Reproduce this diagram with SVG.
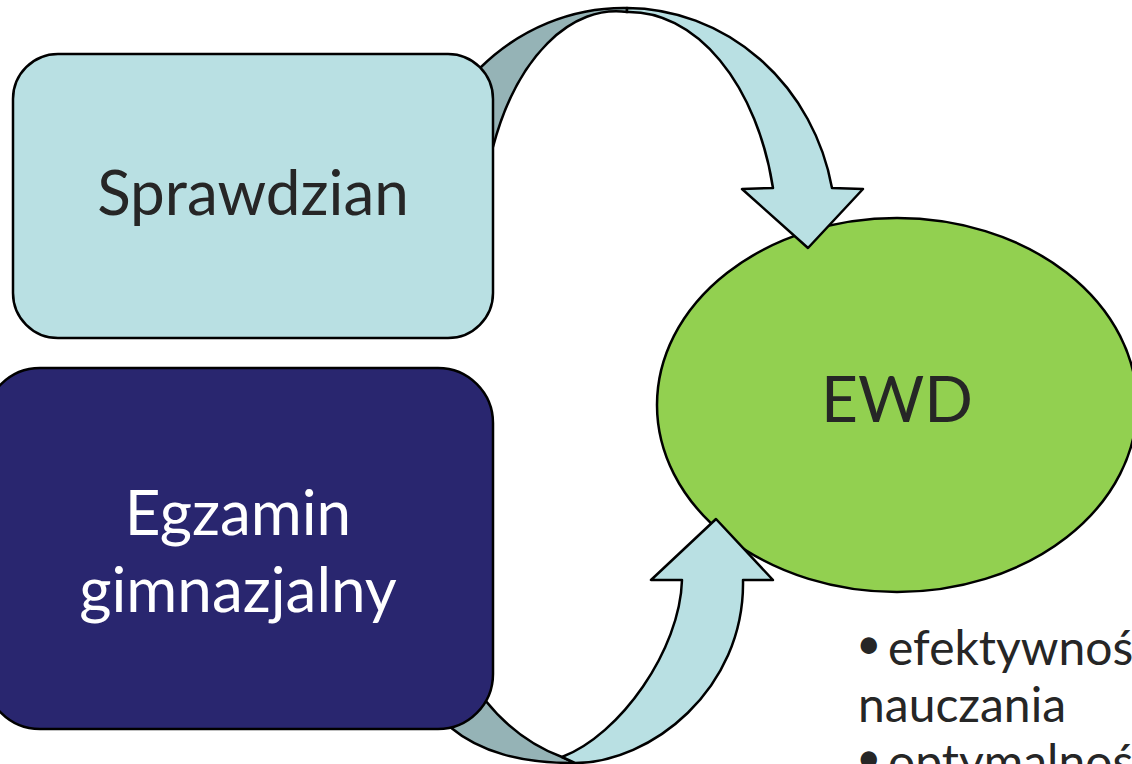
<svg xmlns="http://www.w3.org/2000/svg" width="1132" height="764" viewBox="0 0 1132 764">
<style>
.ln{stroke:#000;stroke-width:2.5;stroke-linejoin:round}
.front{fill:#B9E0E3}
.back{fill:#95B3B6}
.t{font-family:Lato,"Open Sans",sans-serif;text-anchor:middle}
</style>
<rect width="1132" height="764" fill="#fff"/>
<g id="ewd">
<ellipse class="ln" cx="897" cy="405" rx="240" ry="187" fill="#92D050"/>
<text class="t" x="897" y="422" font-size="64" fill="#262626">EWD</text>
</g>
<g id="connectors">
<g id="arrow-top">
<path class="ln back" d="M480,68 A210 222 0 0 1 627,8 L627,12 A135 230 0 0 0 493,147 Z"/>
<path class="ln front" d="M627,8 A210 222 0 0 1 832,188 L863,189 L808,248 L742,189 L773,188 A148 230 0 0 0 627,12 Z"/>
</g>
<g id="arrow-bottom">
<path class="ln back" d="M450,727 C480,752 520,763 575,763 L562,757 C530,745 505,725 485,700 Z"/>
<path class="ln front" d="M575,763 C650,763 745,690 743,580 L773,580 L716,519 L651,580 L682,580 C680,650 620,735 562,757 Z"/>
</g>
</g>
<g id="sprawdzian">
<rect class="ln" x="13" y="54" width="480" height="284" rx="45" fill="#B9E0E3"/>
<text class="t" x="253" y="215" font-size="62" fill="#262626">Sprawdzian</text>
</g>
<g id="egzamin">
<rect class="ln" x="-15" y="368" width="508" height="361" rx="55" fill="#29266F"/>
<text class="t" x="238" y="535" font-size="62" fill="#fff">Egzamin</text>
<text class="t" x="238" y="612" font-size="62" fill="#fff">gimnazjalny</text>
</g>
<g id="bullets" font-family="Lato,'Open Sans',sans-serif" font-size="48" fill="#262626">
<text x="856" y="659" font-size="44">•</text>
<text x="888" y="665">efektywnoś</text>
<text x="858" y="722">nauczania</text>
<text x="856" y="773" font-size="44">•</text>
<text x="888" y="779">optymalnoś</text>
</g>
</svg>
